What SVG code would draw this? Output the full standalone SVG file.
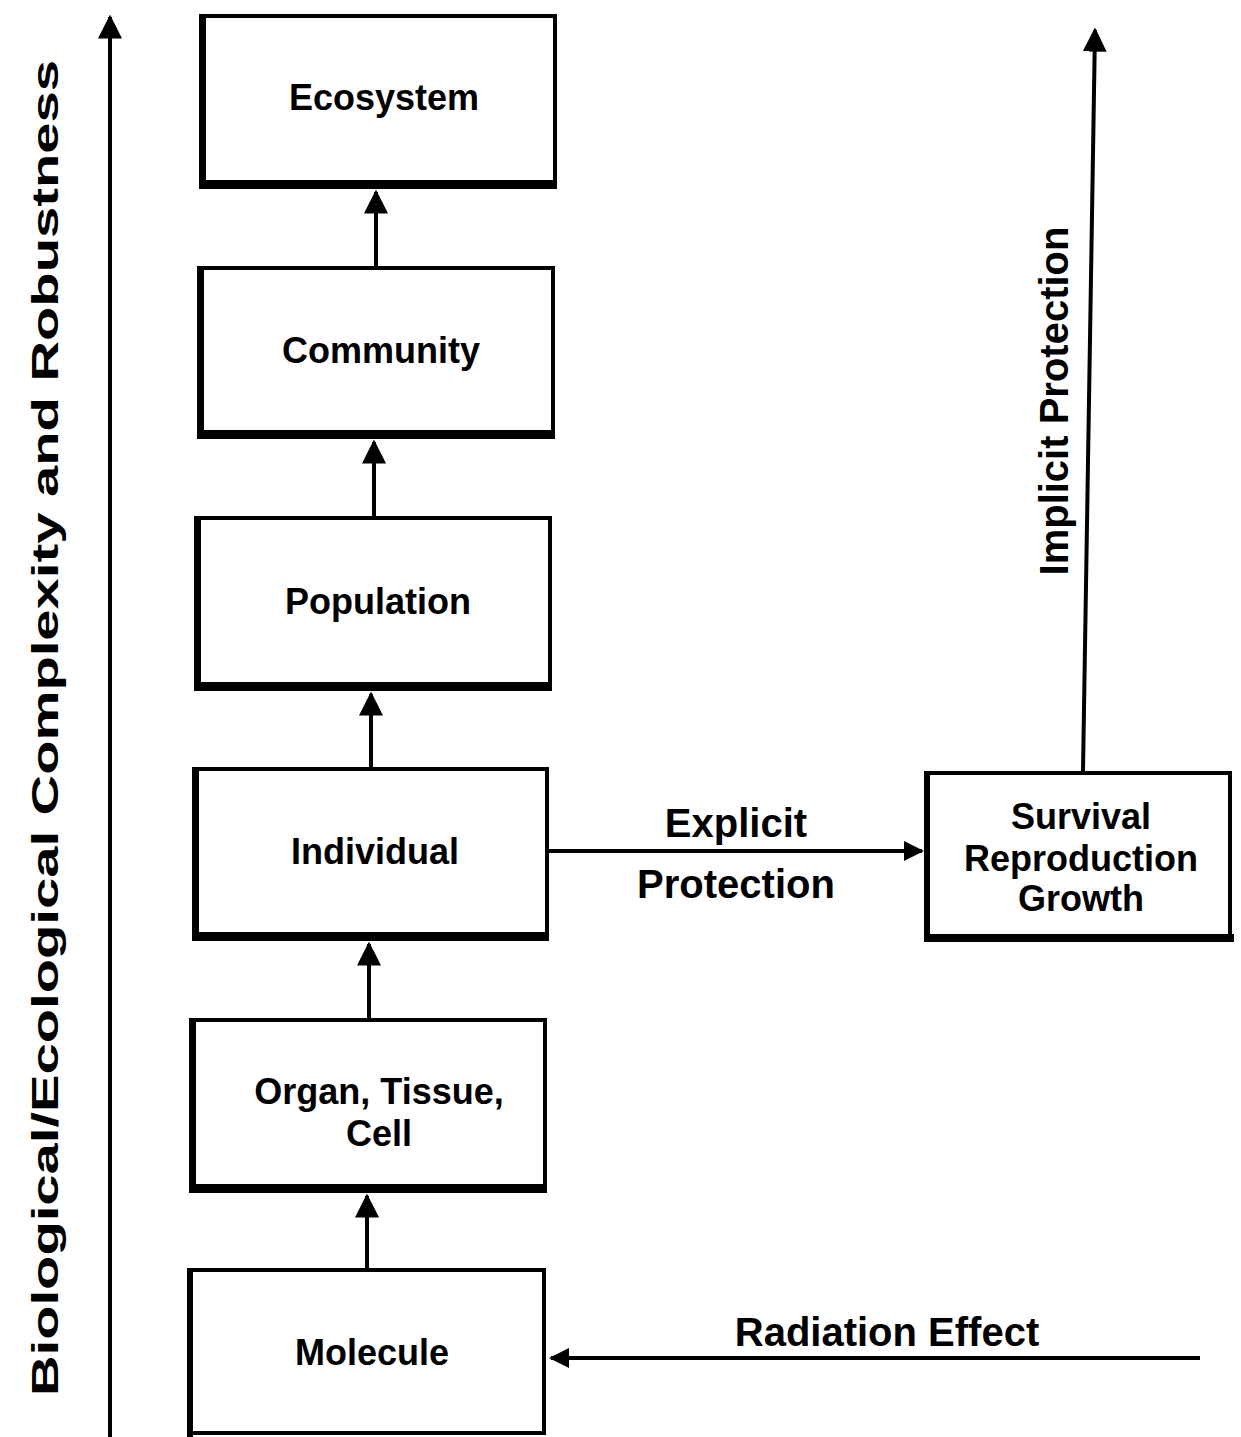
<svg xmlns="http://www.w3.org/2000/svg" width="1241" height="1437" viewBox="0 0 1241 1437">
<style>
.box{fill:#fff;stroke:#000;stroke-width:4}
.sh{fill:#000}
.t{font-family:"Liberation Sans",Arial,sans-serif;font-weight:bold;font-size:36px;fill:#000;text-anchor:middle}
.l{font-size:40px}
.c{stroke:#000;stroke-width:4;fill:none}
</style>
<defs>
<marker id="ah" viewBox="0 0 10 10" refX="9" refY="5" markerWidth="6" markerHeight="6" markerUnits="strokeWidth" orient="auto">
<path d="M0,0 L10,5 L0,10 z" fill="#000"/>
</marker>
<marker id="ahs" viewBox="0 0 10 10" refX="9" refY="5" markerWidth="8" markerHeight="5" markerUnits="strokeWidth" orient="auto">
<path d="M0,0 L10,5 L0,10 z" fill="#000"/>
</marker>
</defs>
<rect width="1241" height="1437" fill="#fff"/>
<g id="axis">
<line class="c" x1="110" y1="1437" x2="110" y2="17" stroke-width="5" marker-end="url(#ah)"/>
<text class="t" transform="translate(58,728) rotate(-90)" font-size="56" textLength="1336" lengthAdjust="spacingAndGlyphs">Biological/Ecological Complexity and Robustness</text>
</g>
<g id="connectors">
<line class="c" x1="376" y1="266" x2="376" y2="192" marker-end="url(#ah)"/>
<line class="c" x1="374" y1="516" x2="374" y2="442" marker-end="url(#ah)"/>
<line class="c" x1="371" y1="767" x2="371" y2="694" marker-end="url(#ah)"/>
<line class="c" x1="369" y1="1018" x2="369" y2="944" marker-end="url(#ah)"/>
<line class="c" x1="367" y1="1268" x2="367" y2="1196" marker-end="url(#ah)"/>
<line class="c" x1="549" y1="851" x2="922" y2="851" stroke-width="3" marker-end="url(#ahs)"/>
<line class="c" x1="1200" y1="1358" x2="551" y2="1358" stroke-width="3" marker-end="url(#ahs)"/>
<line class="c" x1="1083" y1="771" x2="1095" y2="30" marker-end="url(#ah)"/>
<text class="t l" x="736" y="837">Explicit</text>
<text class="t l" x="736" y="898">Protection</text>
<text class="t l" x="887" y="1346">Radiation Effect</text>
<text class="t l" transform="translate(1068,401) rotate(-90)">Implicit Protection</text>
</g>
<g id="ecosystem">
<rect class="box" x="201" y="16" width="354" height="168"/>
<rect class="sh" x="199" y="14" width="7" height="174"/>
<rect class="sh" x="199" y="180" width="358" height="9"/>
<text class="t" x="384" y="110">Ecosystem</text>
</g>
<g id="community">
<rect class="box" x="199" y="268" width="354" height="166"/>
<rect class="sh" x="197" y="266" width="7" height="172"/>
<rect class="sh" x="197" y="430" width="358" height="9"/>
<text class="t" x="381" y="363">Community</text>
</g>
<g id="population">
<rect class="box" x="196" y="518" width="354" height="168"/>
<rect class="sh" x="194" y="516" width="7" height="174"/>
<rect class="sh" x="194" y="682" width="358" height="9"/>
<text class="t" x="378" y="614">Population</text>
</g>
<g id="individual">
<rect class="box" x="194" y="769" width="353" height="167"/>
<rect class="sh" x="192" y="767" width="7" height="173"/>
<rect class="sh" x="192" y="932" width="357" height="9"/>
<text class="t" x="375" y="864">Individual</text>
</g>
<g id="organ">
<rect class="box" x="191" y="1020" width="354" height="168"/>
<rect class="sh" x="189" y="1018" width="7" height="174"/>
<rect class="sh" x="189" y="1184" width="358" height="9"/>
<text class="t" x="379" y="1104">Organ, Tissue,</text>
<text class="t" x="379" y="1146">Cell</text>
</g>
<g id="molecule">
<rect class="box" x="189" y="1270" width="355" height="163"/>
<rect class="sh" x="187" y="1268" width="6" height="169"/>
<text class="t" x="372" y="1365">Molecule</text>
</g>
<g id="survival">
<rect class="box" x="926" y="773" width="304" height="164"/>
<rect class="sh" x="924" y="771" width="6" height="170"/>
<rect class="sh" x="924" y="934" width="310" height="8"/>
<text class="t" x="1081" y="829">Survival</text>
<text class="t" x="1081" y="871">Reproduction</text>
<text class="t" x="1081" y="911">Growth</text>
</g>
</svg>
